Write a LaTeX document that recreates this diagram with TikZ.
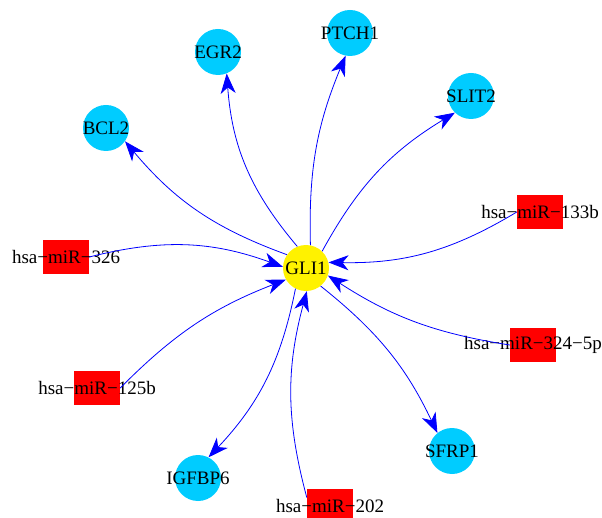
\documentclass[tikz,border=0pt]{standalone}
\usepackage{fontspec}
\setmainfont{Liberation Serif}
\usetikzlibrary{arrows.meta}
\definecolor{genecol}{RGB}{0,204,255}
\tikzset{
	gene/.style={circle, fill=genecol, minimum size=46pt, inner sep=0pt},
	hub/.style={circle, fill=yellow, minimum size=46pt, inner sep=0pt},
	mirna/.style={rectangle, fill=red, minimum width=46pt, minimum height=34pt, inner sep=0pt},
	edge/.style={blue, line width=0.8pt, -{Stealth[length=20pt,width=15pt,inset=6pt]}},
}
\begin{document}
\begin{tikzpicture}[x=1pt, y=1pt, font=\fontsize{19}{22}\selectfont]
			\clip (0,0) rectangle (602,-518);
			\node[hub, label={center:GLI1}] (gli) at (306,-268) {};
			\foreach \n/\x/\y/\t in {bcl/106/128/BCL2, egr/218/52/EGR2, ptc/350/33/PTCH1, sli/471/96/SLIT2, sfr/452/451/SFRP1, igf/198/478/IGFBP6}{
				\node[gene, label={center:\t}] (\n) at (\x,-\y) {};
			}
			\foreach \n/\x/\y/\t in {m326/66/257/hsa−miR−326, m133/540/212/hsa−miR−133b, m324/533/345/hsa−miR−324−5p, m202/330/506/hsa−miR−202, m125/97/388/hsa−miR−125b}{
				\node[mirna, label={center:\t}] (\n) at (\x,-\y) {};
			}
			\foreach \a/\b/\k in {gli.145/bcl.325/15, gli.112/egr.292/18, gli.79/ptc.259/12, gli.46/sli.226/15, gli.309/sfr.129/13, gli.243/igf.63/16}{
				\draw[edge] (\a) to[bend left=\k] (\b);
			}
			\foreach \a/\b/\k in {m326.east/gli.177/17, m133.west/gli.14/16, m324.west/gli.341/12, m202.160/gli.272/15, m125.east/gli.210/12}{
				\draw[edge] (\a) to[bend left=\k] (\b);
			}
		\end{tikzpicture}
\end{document}
